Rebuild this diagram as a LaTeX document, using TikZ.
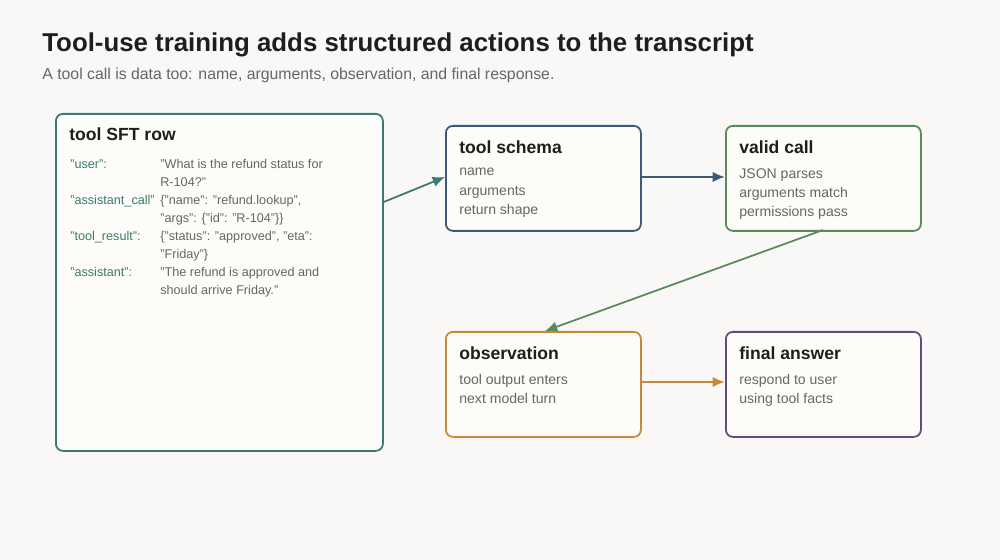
\documentclass[tikz,border=0pt]{standalone}
\usepackage{fontspec}
\setmainfont{Liberation Sans}
\usetikzlibrary{arrows.meta}
\definecolor{bgc}{HTML}{F9F8F6}
\definecolor{boxfill}{HTML}{FDFCF8}
\definecolor{tealc}{HTML}{3A7A70}
\definecolor{bluec}{HTML}{3A5A78}
\definecolor{greenc}{HTML}{5A8A5A}
\definecolor{orangec}{HTML}{C88A3A}
\definecolor{purplec}{HTML}{5E4E80}
\definecolor{inkc}{HTML}{1E1E1E}
\definecolor{grayc}{HTML}{666666}
\tikzset{
  card/.style={draw=#1, line width=1pt, fill=boxfill, rounded corners=4pt, anchor=north west, inner sep=0pt},
  cardtitle/.style={anchor=north west, inner sep=0pt, font=\fontsize{10}{12}\selectfont\bfseries, text=inkc},
  cardbody/.style={anchor=north west, inner sep=0pt, align=left, font=\fontsize{8}{11}\selectfont, text=grayc},
  rowkey/.style={anchor=north west, inner sep=0pt, font=\fontsize{7.2}{10}\selectfont, text=tealc},
  rowval/.style={anchor=north west, inner sep=0pt, align=left, font=\fontsize{7.2}{10}\selectfont, text=grayc},
  flow/.style={draw=#1, line width=1.3pt, -{Latex[length=7pt,width=6pt]}}
}
\begin{document}
\begin{tikzpicture}[x=0.02cm, y=-0.02cm]
    \fill[bgc] (0,0) rectangle (1000,560);
    \useasboundingbox (0,0) rectangle (1000,560);

    \node[anchor=west, inner sep=0pt, font=\fontsize{14.7}{16}\selectfont\bfseries, text=inkc] (title) at (42,45) {Tool-use training adds structured actions to the transcript};
    \node[anchor=west, inner sep=0pt, font=\fontsize{9}{10}\selectfont, text=grayc] (subtitle) at (42,75) {A tool call is data too: name, arguments, observation, and final response.};

    % cards
    \node[card=tealc, minimum width=327*0.02cm, minimum height=337*0.02cm] (row) at (55,113) {};
    \node[card=bluec, minimum width=195*0.02cm, minimum height=105*0.02cm] (schema) at (445,125) {};
    \node[card=greenc, minimum width=195*0.02cm, minimum height=105*0.02cm] (valid) at (725,125) {};
    \node[card=orangec, minimum width=195*0.02cm, minimum height=105*0.02cm] (obs) at (445,331) {};
    \node[card=purplec, minimum width=195*0.02cm, minimum height=105*0.02cm] (final) at (725,331) {};

    \node[cardtitle] (rowt) at (69,127) {tool SFT row};
    \node[rowkey] (k1) at (70,159) {"user":};
    \node[rowval] (v1) at (160,159) {"What is the refund status for\\R-104?"};
    \node[rowkey] (k2) at (70,195) {"assistant\_call"};
    \node[rowval] (v2) at (160,195) {\{"name": "refund.lookup",\\"args": \{"id": "R-104"\}\}};
    \node[rowkey] (k3) at (70,231) {"tool\_result":};
    \node[rowval] (v3) at (160,231) {\{"status": "approved", "eta":\\"Friday"\}};
    \node[rowkey] (k4) at (70,267) {"assistant":};
    \node[rowval] (v4) at (160,267) {"The refund is approved and\\should arrive Friday."};

    \node[cardtitle] (schemat) at (459,140) {tool schema};
    \node[cardbody] (schemab) at (459,168) {name\\arguments\\return shape};
    \node[cardtitle] (validt) at (739,140) {valid call};
    \node[cardbody] (validb) at (739,168) {JSON parses\\arguments match\\permissions pass};
    \node[cardtitle] (obst) at (459,346) {observation};
    \node[cardbody] (obsb) at (459,374) {tool output enters\\next model turn};
    \node[cardtitle] (finalt) at (739,346) {final answer};
    \node[cardbody] (finalb) at (739,374) {respond to user\\using tool facts};

    % connectors
    \draw[flow=tealc, line width=1pt] (row.east |- 0,202) -- (schema.west |- 0,177);
    \draw[flow=bluec] (schema.east |- 0,177) -- (valid.west |- 0,177);
    \draw[flow=greenc, line width=1pt] (823,230) -- (545,331);
    \draw[flow=orangec] (obs.east |- 0,382) -- (final.west |- 0,382);
\end{tikzpicture}
\end{document}
